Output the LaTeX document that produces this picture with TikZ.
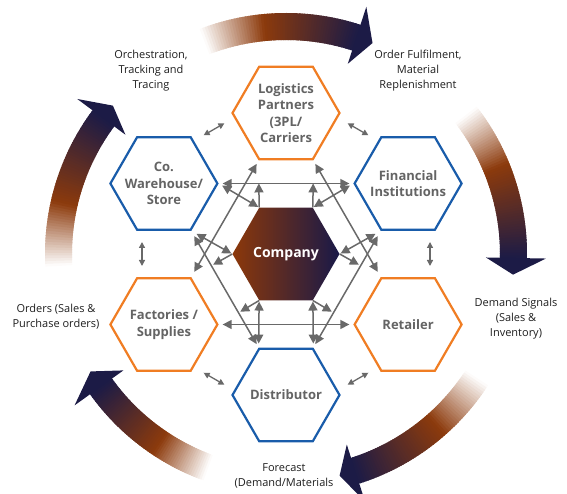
\documentclass[tikz,border=0pt]{standalone}
\usepackage{fontspec}
\setmainfont{Open Sans}
\usetikzlibrary{shapes.geometric,arrows.meta,calc}
\definecolor{brn}{RGB}{140,58,12}
\definecolor{nvy}{RGB}{28,27,70}
\definecolor{hblue}{RGB}{25,92,170}
\definecolor{horange}{RGB}{240,125,35}
\definecolor{htext}{RGB}{100,100,100}
\definecolor{agray}{RGB}{105,105,105}
\definecolor{comL}{RGB}{140,56,10}
\definecolor{comR}{RGB}{25,25,72}
\definecolor{lbltext}{RGB}{30,30,30}

\newcommand{\cycarrow}[3]{%
  \foreach \i in {0,...,59}{%
    \pgfmathsetmacro\angA{#1-(#1-(#2))*\i/60}%
    \pgfmathsetmacro\angB{#1-(#1-(#2))*(\i+1)/60-0.4}%
    \pgfmathsetmacro\tpar{(\i+0.5)/60}%
    \pgfmathsetmacro\mixP{min(100,\tpar/0.4*100)}%
    \pgfmathsetmacro\mixQ{max(0,(\tpar-0.4)/0.6*100)}%
    \fill[nvy!\mixQ!brn!\mixP!white] (\angA:214pt) arc[start angle=\angA, end angle=\angB, radius=214pt]
      -- (\angB:241pt) arc[start angle=\angB, end angle=\angA, radius=241pt] -- cycle;
  }%
  \fill[nvy] (#2:200pt) -- (#3:228pt) -- (#2:260pt) -- cycle;
}

\tikzset{
  hexb/.style={regular polygon, regular polygon sides=6, minimum size=107pt, inner sep=0pt,
    draw=hblue, line width=2.2pt, fill=white},
  hexo/.style={hexb, draw=horange},
  hexc/.style={regular polygon, regular polygon sides=6, minimum size=107pt, inner sep=0pt,
    left color=comL, right color=comR, draw=none},
  hxt/.style={align=center, text=htext, font=\bfseries\fontsize{13}{16.5}\selectfont},
  comt/.style={align=center, text=white, font=\bfseries\fontsize{14}{17}\selectfont},
  lbl/.style={align=center, text=lbltext, font=\fontsize{11}{15}\selectfont},
  dbl/.style={draw=agray, line width=1.5pt, {Triangle[length=9pt,width=9pt]}-{Triangle[length=9pt,width=9pt]}},
  sgl/.style={draw=agray, line width=1.5pt, -{Triangle[length=9pt,width=9pt]}},
  sml/.style={draw=agray, line width=1.3pt, {Triangle[length=6pt,width=6pt]}-{Triangle[length=6pt,width=6pt]}},
}

\begin{document}
\begin{tikzpicture}[x=1pt,y=1pt]
\useasboundingbox (0,0) rectangle (567,494);
\coordinate (C) at (286,240);

% big cycle arrows
\begin{scope}[shift={(C)}]
  \cycarrow{111}{72}{67.7}
  \cycarrow{37.7}{-1}{-5.2}
  \cycarrow{-33}{-72.3}{-76.4}
  \cycarrow{250}{215.6}{211}
  \cycarrow{183}{143.4}{139.4}
\end{scope}

% hexagons
\node[hexc] (com) at (C) {};
\node[hexo] (log) at ($(C)+(90:141)$) {};
\node[hexb] (wh) at ($(C)+(150:141)$) {};
\node[hexb] (fin) at ($(C)+(30:141)$) {};
\node[hexo] (fac) at ($(C)+(210:141)$) {};
\node[hexo] (ret) at ($(C)+(330:141)$) {};
\node[hexb] (dist) at ($(C)+(270:141)$) {};

\node[comt] at (com) {Company};
\node[hxt] at (log) {Logistics\\Partners\\(3PL/\\Carriers};
\node[hxt] at (wh) {Co.\\Warehouse/\\Store};
\node[hxt] at (fin) {Financial\\Institutions};
\node[hxt] at (fac) {Factories /\\Supplies};
\node[hxt] at (ret) {Retailer};
\node[hxt] at (dist) {Distributor};

% star connectors
\draw[dbl, shorten <=4pt, shorten >=4pt] (wh.0) -- (fin.180);
\draw[dbl, shorten <=4pt, shorten >=4pt] (fac.0) -- (ret.180);
\draw[dbl, shorten <=4pt, shorten >=6pt] (log.240) -- (fac.60);
\draw[dbl, shorten <=4pt, shorten >=6pt] (log.300) -- (ret.120);
\draw[dbl, shorten <=6pt, shorten >=4pt] (wh.300) -- (dist.120);
\draw[dbl, shorten <=6pt, shorten >=4pt] (fin.240) -- (dist.60);

% company connectors
\draw[dbl, shorten <=1pt, shorten >=4pt] (com.120) -- (wh.0);
\draw[dbl, shorten <=1pt, shorten >=4pt] (com.60) -- (fin.180);
\draw[dbl, shorten <=1pt, shorten >=6pt] (com.180) -- (wh.300);
\draw[dbl, shorten <=1pt, shorten >=6pt] (com.0) -- (fin.240);
\draw[dbl, shorten <=1pt, shorten >=4pt] (com.240) -- (dist.120);
\draw[dbl, shorten <=1pt, shorten >=4pt] (com.300) -- (dist.60);

\coordinate (u1) at ($(com.120)!24pt!(log.240)$);
\coordinate (u2) at ($(com.60)!24pt!(log.300)$);
\coordinate (u3) at ($(com.180)!22pt!(fac.60)$);
\coordinate (u4) at ($(com.0)!22pt!(ret.120)$);
\coordinate (u5) at ($(com.240)!22pt!(fac.0)$);
\coordinate (u6) at ($(com.300)!22pt!(ret.180)$);
\draw[sgl] (com.120) -- (u1);
\draw[sgl] (com.60) -- (u2);
\draw[sgl] (com.180) -- (u3);
\draw[sgl] (com.0) -- (u4);
\draw[sgl] (com.240) -- (u5);
\draw[sgl] (com.300) -- (u6);

% small ring arrows between neighbours
\foreach \th/\nm in {0/r0,60/r60,120/r120,180/r180,240/r240,300/r300}{
  \coordinate (\nm a) at ($(C)+(\th:144)+(\th+90:12)$);
  \coordinate (\nm b) at ($(C)+(\th:144)+(\th-90:12)$);
  \draw[sml] (\nm a) -- (\nm b);
}

% labels
\node[lbl] (l1) at (151,423) {Orchestration,\\Tracking and\\Tracing};
\node[lbl] (l2) at (418,423) {Order Fulfilment,\\Material\\Replenishment};
\node[lbl] (l3) at (516,175) {Demand Signals\\(Sales \&\\Inventory)};
\node[lbl] (l4) at (56,177) {Orders (Sales \&\\Purchase orders)};
\node[lbl] (l5) at (284,18) {Forecast\\(Demand/Materials};
\end{tikzpicture}
\end{document}
